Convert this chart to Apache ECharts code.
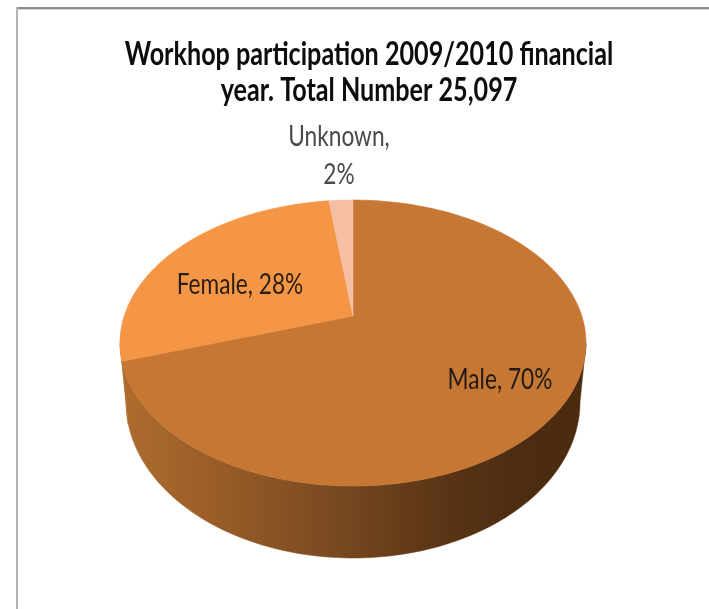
<!DOCTYPE html>
<html>
<head>
<meta charset="utf-8">
<style>html,body{margin:0;padding:0;background:#fff}#chart{width:709px;height:609px}</style>
<script src="https://cdn.jsdelivr.net/npm/echarts@6/dist/echarts.min.js"></script>
</head>
<body>
<div id="chart"></div>
<script>
// Workshop participation by gender, 2009/2010 financial year
const categories = ['Male', 'Female', 'Unknown'];
const shares = [70, 28, 2];
const titleLines = ['Workhop participation 2009/2010 financial', 'year. Total Number 25,097'];

const topColors = ['#C77734', '#F49645', '#F6BFA3'];
const labelColors = ['#1f1a14', '#2a1e12', '#4a4a4a'];
// Label centres relative to the pie's apex, and how each one wraps
const labelOffsets = [[147, 64], [-113, -31], [-14, -160]];
const labelBreak = [', ', ', ', ',\n'];

// Tilted disc: unit-circle point -> screen point through a perspective divide
const disc = { cx: 353, cy: 316, a: 228.8, b: 137.9, k: 0.1888 };
const base = { cx: 353, cy: 402, a: 227, b: 156, k: 0 };
function project(d, deg) {
  const t = deg * Math.PI / 180;
  const u = Math.sin(t), v = Math.cos(t), w = 1 + d.k * v;
  return [d.cx + d.a * u / w, d.cy - d.b * v / w];
}
function arc(d, from, to) {
  const pts = [];
  const n = Math.max(2, Math.ceil(Math.abs(to - from) / 1.5));
  for (let i = 0; i <= n; i++) pts.push(project(d, from + (to - from) * i / n));
  return pts;
}

// The wall only shows between the disc's left and right silhouette angles
const frontFrom = Math.acos(-disc.k) * 180 / Math.PI;
const frontTo = 360 - frontFrom;
const baseAngle = deg => 90 + (deg - frontFrom) * 180 / (frontTo - frontFrom);
const total = shares.reduce((s, v) => s + v, 0);

const wallFill = new echarts.graphic.LinearGradient(121, 0, 587, 0, [
  { offset: 0, color: '#AE6D2E' },
  { offset: 0.2, color: '#9A5D28' },
  { offset: 0.45, color: '#7A4A21' },
  { offset: 0.7, color: '#593415' },
  { offset: 0.85, color: '#4C2D12' },
  { offset: 1, color: '#4A2B10' }
], true);

function renderSlice(params, api) {
  const i = params.dataIndex;
  let start = 0;
  for (let j = 0; j < i; j++) start += shares[j];
  const from = start / total * 360;
  const to = (start + api.value(0)) / total * 360;
  const children = [];

  const wFrom = Math.max(from, frontFrom), wTo = Math.min(to, frontTo);
  if (wTo > wFrom) {
    const pts = arc(disc, wFrom, wTo).concat(arc(base, baseAngle(wTo), baseAngle(wFrom)));
    children.push({
      type: 'polygon',
      shape: { points: pts },
      style: { fill: wallFill, stroke: wallFill, lineWidth: 0.5 }
    });
  }

  children.push({
    type: 'polygon',
    shape: { points: [[disc.cx, disc.cy]].concat(arc(disc, from, to)) },
    style: { fill: topColors[i], stroke: topColors[i], lineWidth: 0.6 }
  });

  children.push({
    type: 'text',
    z2: 10,
    x: disc.cx + labelOffsets[i][0],
    y: disc.cy + labelOffsets[i][1],
    scaleX: 0.81,
    style: {
      text: categories[i] + labelBreak[i] + api.value(0) + '%',
      fill: labelColors[i],
      font: '28px Lato, "Noto Sans", sans-serif',
      lineHeight: 38,
      align: 'center',
      verticalAlign: 'middle'
    }
  });
  return { type: 'group', children: children };
}

const chart = echarts.init(document.getElementById('chart'), null, { renderer: 'canvas' });
chart.setOption({
  animation: false,
  backgroundColor: '#ffffff',
  graphic: [
    { type: 'rect', shape: { x: 16, y: 7, width: 693, height: 2 }, style: { fill: '#8c8c8c' }, silent: true },
    { type: 'rect', shape: { x: 16, y: 9, width: 693, height: 1 }, style: { fill: '#d4d4d4' }, silent: true },
    { type: 'rect', shape: { x: 16, y: 7, width: 2, height: 602 }, style: { fill: '#b4b4b4' }, silent: true },
    {
      type: 'text',
      x: 369,
      y: 73,
      scaleX: 0.786,
      silent: true,
      style: {
        text: titleLines.join('\n'),
        fill: '#0d0d0d',
        font: 'bold 32px Lato, "Noto Sans", sans-serif',
        lineHeight: 36,
        align: 'center',
        verticalAlign: 'middle'
      }
    }
  ],
  series: [{
    type: 'custom',
    coordinateSystem: 'none',
    renderItem: renderSlice,
    data: shares.map(v => [v]),
    silent: true
  }]
});
</script>
</body>
</html>
